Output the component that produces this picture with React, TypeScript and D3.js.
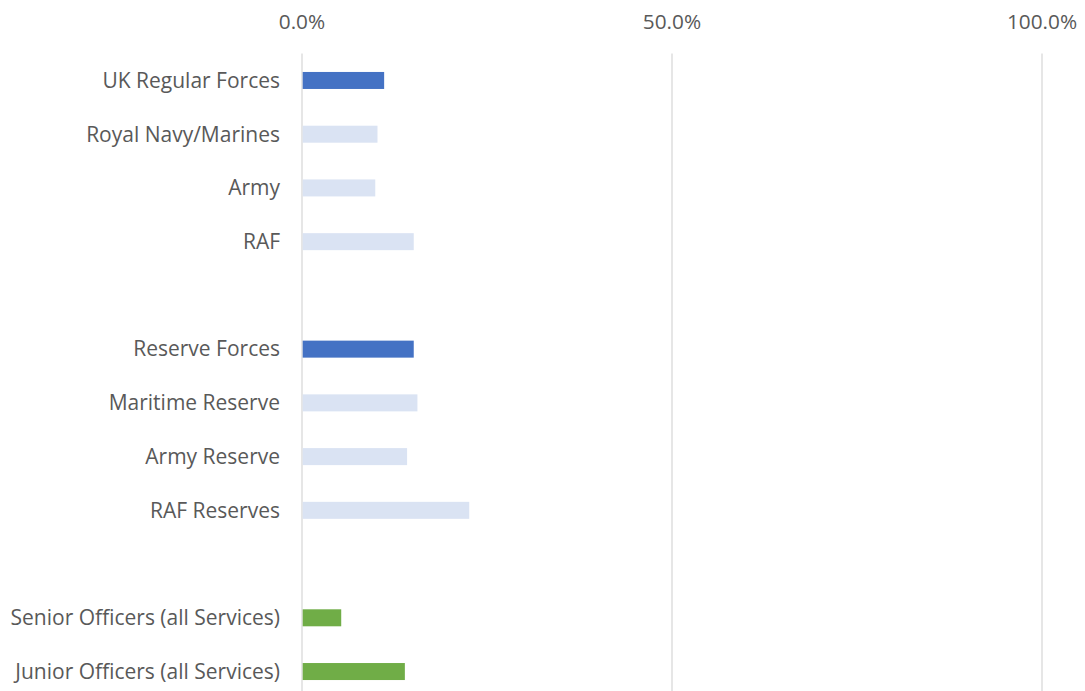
import React, { useEffect, useRef } from "react";
import * as d3 from "d3";

// categories top-to-bottom, blank entries are spacer rows
const categories = [
  "UK Regular Forces",
  "Royal Navy/Marines",
  "Army",
  "RAF",
  "",
  "Reserve Forces",
  "Maritime Reserve",
  "Army Reserve",
  "RAF Reserves",
  " ",
  "Senior Officers (all Services)",
  "Junior Officers (all Services)",
];
const values = [11.1, 10.2, 9.9, 15.1, null, 15.1, 15.6, 14.2, 22.6, null, 5.3, 13.9];
const groups = ["total", "sub", "sub", "sub", "none", "total", "sub", "sub", "sub", "none", "officer", "officer"];
const ticks = [0, 50, 100];

const colors: Record<string, string> = {
  total: "#4472C4",
  sub: "#DAE3F3",
  officer: "#70AD47",
};

const font = "'Open Sans', sans-serif";

const App = () => {
  const ref = useRef<SVGSVGElement>(null);

  useEffect(() => {
    const width = 1085;
    const height = 691;
    const margin = { top: 53.6, right: 43, bottom: -7.4, left: 302 };

    const svg = d3.select(ref.current).attr("width", width).attr("height", height);
    svg.selectAll("*").remove();

    const x = d3.scaleLinear().domain([0, 100]).range([margin.left, width - margin.right]);
    const y = d3
      .scaleBand()
      .domain(categories)
      .range([margin.top, height - margin.bottom])
      .padding(0);

    //gridlines
    svg.append("g")
      .selectAll("line")
      .data(ticks)
      .join("line")
      .attr("x1", (d) => x(d))
      .attr("x2", (d) => x(d))
      .attr("y1", margin.top)
      .attr("y2", height)
      .attr("stroke", "#D9D9D9")
      .attr("stroke-width", 1.3);

    //tick labels on top
    svg.append("g")
      .selectAll("text")
      .data(ticks)
      .join("text")
      .attr("x", (d) => x(d))
      .attr("y", 22)
      .attr("dy", "0.35em")
      .attr("text-anchor", "middle")
      .attr("fill", "#595959")
      .style("font-family", font)
      .style("font-size", "20.8px")
      .text((d) => d3.format(".1f")(d) + "%");

    const barH = 17;
    svg.append("g")
      .selectAll("rect")
      .data(categories.map((c, i) => ({ c, v: values[i], g: groups[i] })).filter((d) => d.v != null))
      .join("rect")
      .attr("x", x(0) + 0.7)
      .attr("y", (d) => (y(d.c) as number) + y.bandwidth() / 2 - barH / 2)
      .attr("width", (d) => x(d.v as number) - x(0) - 0.7)
      .attr("height", barH)
      .attr("fill", (d) => colors[d.g]);

    //category labels
    svg.append("g")
      .selectAll("text")
      .data(categories.filter((c) => c.trim() !== ""))
      .join("text")
      .attr("x", 280)
      .attr("y", (d) => (y(d) as number) + y.bandwidth() / 2)
      .attr("dy", "0.35em")
      .attr("text-anchor", "end")
      .attr("fill", "#595959")
      .style("font-family", font)
      .style("font-size", "21px")
      .text((d) => d);
  }, []);

  return (
    <div style={{ position: "absolute", left: 0, top: 0 }}>
      <svg ref={ref} style={{ display: "block" }} />
    </div>
  );
};

export default App;
